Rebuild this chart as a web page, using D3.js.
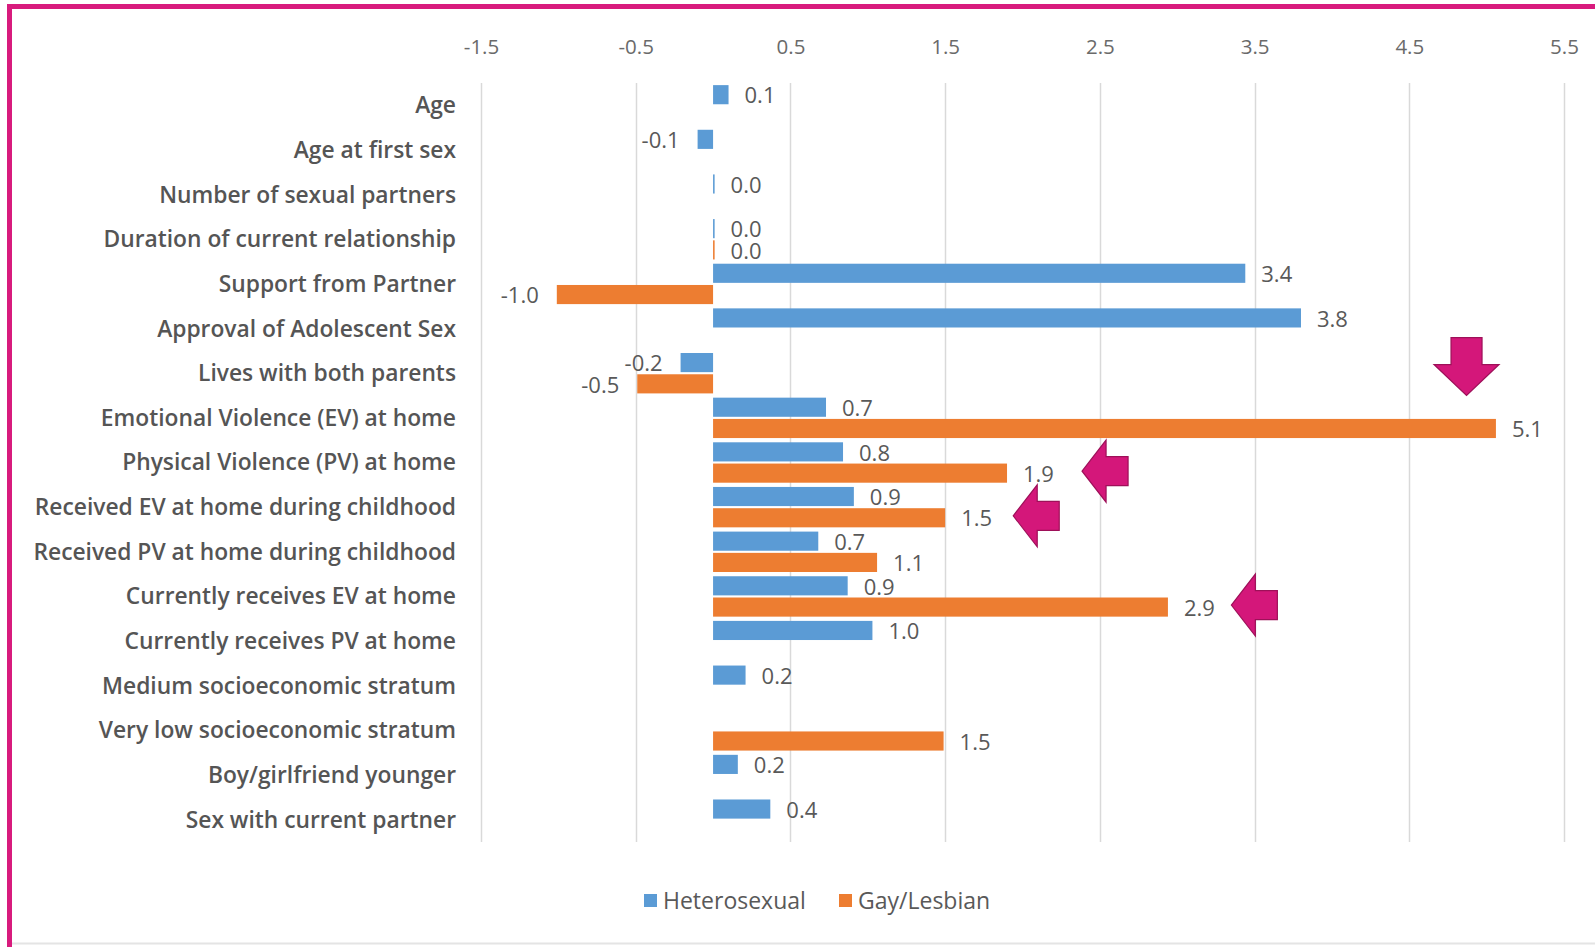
<!DOCTYPE html>
<html>
<head>
<meta charset="utf-8">
<script src="https://cdn.jsdelivr.net/npm/d3@7"></script>
<style>
  html, body { margin: 0; padding: 0; background: #fff; }
  svg { display: block; }
</style>
</head>
<body>
<svg id="chart" width="1595" height="947"></svg>
<script>
// ---- data ----
const categories = [
  "Age",
  "Age at first sex",
  "Number of sexual partners",
  "Duration of current relationship",
  "Support from Partner",
  "Approval of Adolescent Sex",
  "Lives with both parents",
  "Emotional Violence (EV) at home",
  "Physical Violence (PV) at home",
  "Received EV at home during childhood",
  "Received PV at home during childhood",
  "Currently receives EV at home",
  "Currently receives PV at home",
  "Medium socioeconomic stratum",
  "Very low socioeconomic stratum",
  "Boy/girlfriend younger",
  "Sex with current partner"
];
const seriesNames = ["Heterosexual", "Gay/Lesbian"];
const heterosexual = [0.1, -0.1, 0.01, 0.01, 3.44, 3.8, -0.21, 0.73, 0.84, 0.91, 0.68, 0.87, 1.03, 0.21, null, 0.16, 0.37];
const gayLesbian   = [null, null, null, 0.01, -1.01, null, -0.49, 5.06, 1.9, 1.5, 1.06, 2.94, null, null, 1.49, null, null];
const tickValues = [-1.5, -0.5, 0.5, 1.5, 2.5, 3.5, 4.5, 5.5];
// annotation arrows (category, x position in data units, direction)
const arrows = [
  { cat: "Emotional Violence (EV) at home", x: 4.87, dir: "down" },
  { cat: "Physical Violence (PV) at home", x: 2.385, dir: "left" },
  { cat: "Received EV at home during childhood", x: 1.94, dir: "left" },
  { cat: "Currently receives EV at home", x: 3.35, dir: "left" }
];

const colors = { "Heterosexual": "#5B9BD5", "Gay/Lesbian": "#ED7D31" };
const fmt = d3.formatLocale({ decimal: ".", thousands: ",", grouping: [3], currency: ["", ""], minus: "-" }).format(".1f");

const rows = categories.map((c, i) => ({
  cat: c,
  values: [
    { s: "Heterosexual", v: heterosexual[i] },
    { s: "Gay/Lesbian", v: gayLesbian[i] }
  ]
}));

const svg = d3.select("#chart");

// frame
svg.append("rect").attr("x", 0).attr("y", 0).attr("width", 1595).attr("height", 947).attr("fill", "#fff");
svg.append("line").attr("x1", 12).attr("x2", 1595).attr("y1", 943.5).attr("y2", 943.5).attr("stroke", "#e4e4e4").attr("stroke-width", 2);
svg.append("rect").attr("x", 7).attr("y", 4).attr("width", 1588).attr("height", 5).attr("fill", "#D81B7D");
svg.append("rect").attr("x", 7).attr("y", 4).attr("width", 5).attr("height", 943).attr("fill", "#D81B7D");

const x = d3.scaleLinear().domain([-1.5, 5.5]).range([481, 1564]);
const y0 = d3.scaleBand().domain(categories).range([83, 842]).padding(0);
const y1 = d3.scaleBand().domain(seriesNames).range([0, y0.bandwidth()]).paddingInner(0.1).paddingOuter(0.1);

// gridlines
svg.append("g").selectAll("line").data(tickValues).join("line")
  .attr("x1", d => Math.round(x(d)) + 0.5).attr("x2", d => Math.round(x(d)) + 0.5)
  .attr("y1", 83).attr("y2", 842)
  .attr("stroke", "#d9d9d9").attr("stroke-width", 1.5);

// top axis labels
const axis = d3.axisTop(x).tickValues(tickValues).tickFormat(fmt).tickSize(0).tickPadding(0);
const gAxis = svg.append("g").attr("transform", "translate(0,54)").call(axis);
gAxis.select(".domain").remove();
gAxis.selectAll("text")
  .attr("font-family", "'Open Sans', sans-serif").attr("font-size", 20.5)
  .attr("fill", "#6a6a6a");

// category labels
svg.append("g").selectAll("text").data(categories).join("text")
  .attr("x", 456).attr("y", d => y0(d) + y0.bandwidth() / 2)
  .attr("dy", "0.35em").attr("text-anchor", "end")
  .attr("font-family", "'Open Sans', sans-serif").attr("font-weight", 600)
  .attr("font-size", 22.8).attr("fill", "#555")
  .text(d => d);

// bars
const groups = svg.append("g").selectAll("g").data(rows).join("g")
  .attr("transform", d => `translate(0,${y0(d.cat)})`);

const present = d => d.values.filter(e => e.v !== null);

groups.selectAll("rect").data(present).join("rect")
  .attr("x", e => x(Math.min(0, e.v)))
  .attr("width", e => Math.max(1.5, Math.abs(x(e.v) - x(0))))
  .attr("y", e => y1(e.s))
  .attr("height", y1.bandwidth())
  .attr("fill", e => colors[e.s]);

groups.selectAll("text").data(present).join("text")
  .attr("x", e => e.v >= 0 ? x(e.v) + 16 : x(e.v) - 18)
  .attr("y", e => y1(e.s) + y1.bandwidth() / 2 + 1)
  .attr("dy", "0.35em")
  .attr("text-anchor", e => e.v >= 0 ? "start" : "end")
  .attr("font-family", "'Open Sans', sans-serif").attr("font-size", 22)
  .attr("fill", "#595959")
  .text(e => fmt(e.v));

// arrows
const arrowColor = "#D4177A", arrowStroke = "#9e1059";
arrows.forEach(a => {
  const cx = x(a.x);
  let path;
  if (a.dir === "down") {
    const tipY = y0(a.cat);
    path = [[cx - 15.5, tipY - 58], [cx + 15.5, tipY - 58], [cx + 15.5, tipY - 31], [cx + 32.5, tipY - 31],
            [cx, tipY], [cx - 32.5, tipY - 31], [cx - 15.5, tipY - 31]];
  } else {
    const tipY = y0(a.cat) + y1("Gay/Lesbian") + y1.bandwidth() / 2 - 2;
    path = [[cx, tipY], [cx + 24, tipY - 31], [cx + 24, tipY - 14.5], [cx + 46, tipY - 14.5],
            [cx + 46, tipY + 14.5], [cx + 24, tipY + 14.5], [cx + 24, tipY + 31]];
  }
  svg.append("path")
    .attr("d", d3.line()(path) + "Z")
    .attr("fill", arrowColor).attr("stroke", arrowStroke).attr("stroke-width", 1.2);
});

// legend
const legend = svg.append("g").attr("transform", "translate(0,901)");
const legendItems = [{ s: "Heterosexual", x: 644 }, { s: "Gay/Lesbian", x: 839 }];
legend.selectAll("rect").data(legendItems).join("rect")
  .attr("x", d => d.x).attr("y", -7).attr("width", 13).attr("height", 13)
  .attr("fill", d => colors[d.s]);
legend.selectAll("text").data(legendItems).join("text")
  .attr("x", d => d.x + 19).attr("y", 0).attr("dy", "0.35em")
  .attr("font-family", "'Open Sans', sans-serif").attr("font-size", 23)
  .attr("fill", "#595959")
  .text(d => d.s);
</script>
</body>
</html>
